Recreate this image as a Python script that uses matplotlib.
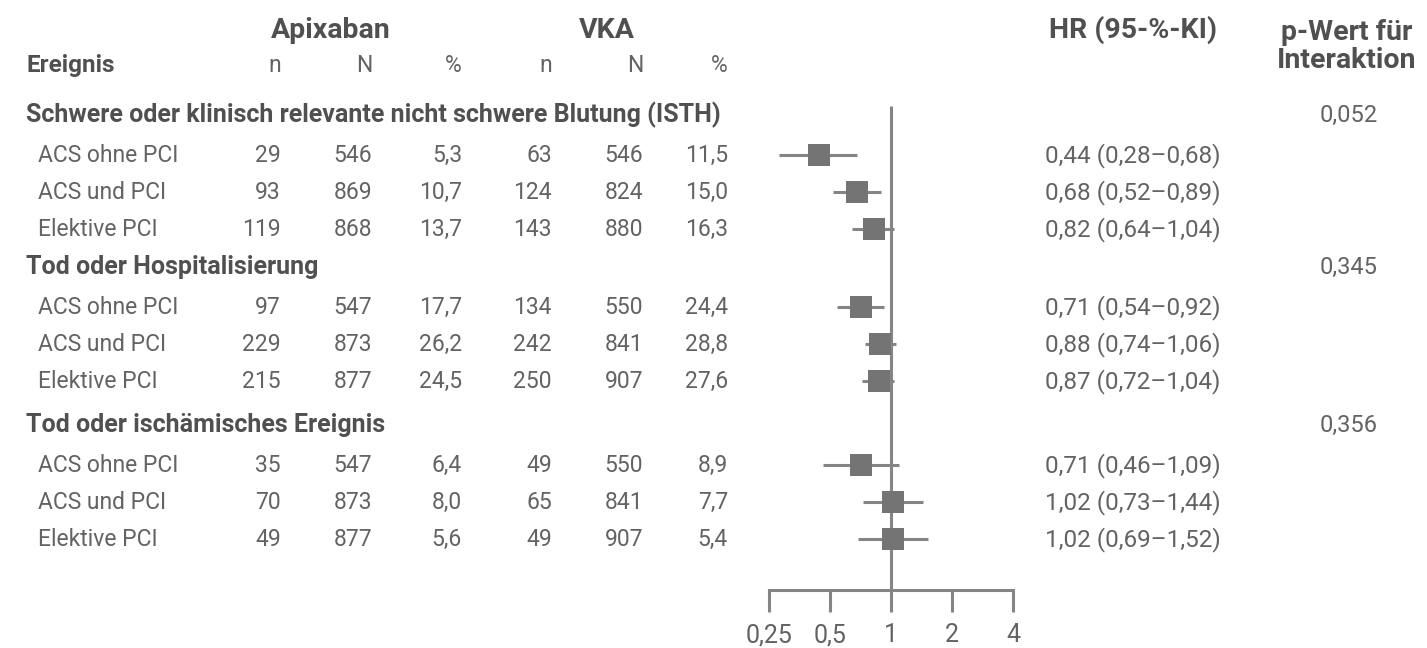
import matplotlib
matplotlib.use("Agg")
import matplotlib.pyplot as plt
from matplotlib.ticker import FixedLocator, FixedFormatter

plt.rcParams['font.family'] = ['Roboto', 'DejaVu Sans']

groups = ["Schwere oder klinisch relevante nicht schwere Blutung (ISTH)",
          "Tod oder Hospitalisierung",
          "Tod oder ischämisches Ereignis"]
p_values = ["0,052", "0,345", "0,356"]
subgroups = ["ACS ohne PCI", "ACS und PCI", "Elektive PCI"]

apix_n = [29, 93, 119, 97, 229, 215, 35, 70, 49]
apix_N = [546, 869, 868, 547, 873, 877, 547, 873, 877]
apix_pct = [5.3, 10.7, 13.7, 17.7, 26.2, 24.5, 6.4, 8.0, 5.6]
vka_n = [63, 124, 143, 134, 242, 250, 49, 65, 49]
vka_N = [546, 824, 880, 550, 841, 907, 550, 841, 907]
vka_pct = [11.5, 15.0, 16.3, 24.4, 28.8, 27.6, 8.9, 7.7, 5.4]
hr = [0.44, 0.68, 0.82, 0.71, 0.88, 0.87, 0.71, 1.02, 1.02]
hr_lo = [0.28, 0.52, 0.64, 0.54, 0.74, 0.72, 0.46, 0.73, 0.69]
hr_hi = [0.68, 0.89, 1.04, 0.92, 1.06, 1.04, 1.09, 1.44, 1.52]
ticks = [0.25, 0.5, 1, 2, 4]
tick_labels = ["0,25", "0,5", "1", "2", "4"]

W, H = 1427, 648
txt_col = "#636363"
bold_col = "#505050"
line_col = "#858585"
box_col = "#747474"
fs = 16.5


def de(v, d=1):
    return f"{v:.{d}f}".replace(".", ",")


# layout in pixel rows
group_y = [115, 267, 425]
row_off = [40, 77, 114]
row_y = [g + o for g in group_y for o in row_off]
col_right = [281, 372, 462, 552, 643, 728]

fig = plt.figure(figsize=(W / 100, H / 100), dpi=100)
tx = fig.add_axes([0, 0, 1, 1])
tx.set_xlim(0, W)
tx.set_ylim(H, 0)
tx.axis("off")

b = 7  # baseline offset from row centre


def put(x, y, s, ha="left", bold=False, size=fs):
    tx.text(x, y + b, s, ha=ha, va="baseline", fontsize=size,
            color=bold_col if bold else txt_col,
            fontweight="bold" if bold else "normal")


# headers
put(331, 31, "Apixaban", ha="center", bold=True, size=20.5)
put(607, 31, "VKA", ha="center", bold=True, size=20.5)
put(1133, 31, "HR (95-%-KI)", ha="center", bold=True, size=20.5)
put(1347, 33, "p-Wert für", ha="center", bold=True, size=20.5)
put(1347, 61, "Interaktion", ha="center", bold=True, size=20.5)
put(26, 65, "Ereignis", bold=True, size=17.5)
for x, s in zip(col_right, ["n", "N", "%", "n", "N", "%"]):
    put(x, 65, s, ha="right")

for gi, g in enumerate(groups):
    put(26, group_y[gi], g, bold=True, size=18)
    put(1378, group_y[gi], p_values[gi], ha="right", size=17)

for i, y in enumerate(row_y):
    put(38, y, subgroups[i % 3])
    vals = [str(apix_n[i]), str(apix_N[i]), de(apix_pct[i]),
            str(vka_n[i]), str(vka_N[i]), de(vka_pct[i])]
    for x, s in zip(col_right, vals):
        put(x, y, s, ha="right")
    put(1045, y, f"{de(hr[i], 2)} ({de(hr_lo[i], 2)}–{de(hr_hi[i], 2)})", size=17.5)

# forest panel
ax = fig.add_axes([769 / W, 0, 244 / W, 1])
ax.patch.set_alpha(0)
ax.set_xscale("log", base=2)
ax.set_xlim(0.25, 4)
ax.set_ylim(H, 0)
for s in ["top", "left", "right"]:
    ax.spines[s].set_visible(False)
ax.spines["bottom"].set_position(("data", 590))
ax.spines["bottom"].set_color(line_col)
ax.spines["bottom"].set_linewidth(2.2)
ax.yaxis.set_visible(False)
ax.xaxis.set_major_locator(FixedLocator(ticks))
ax.xaxis.set_major_formatter(FixedFormatter(tick_labels))
ax.xaxis.set_minor_locator(FixedLocator([]))
ax.tick_params(axis="x", direction="out", length=16, width=2.2, color=line_col,
               labelsize=18, labelcolor=txt_col, pad=8)

ax.vlines(1, 106, 590, color=line_col, lw=2.2)
ax.hlines(row_y, hr_lo, hr_hi, color=line_col, lw=2.2)
ax.plot(hr, row_y, "s", ms=16.5, color=box_col, mew=0)

fig.savefig("out.png", dpi=100)
